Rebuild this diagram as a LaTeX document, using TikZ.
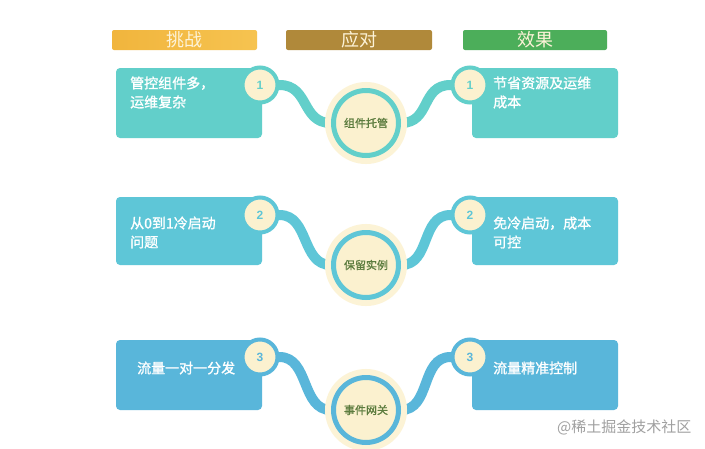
\documentclass[tikz,border=0pt]{standalone}
\usepackage{fontspec}
\setmainfont{Noto Sans CJK SC}
\newfontfamily\cjkmed[FakeBold=1.2]{Noto Sans CJK SC}
\newfontfamily\numfont{Liberation Sans}
\usetikzlibrary{backgrounds}
\definecolor{hdrA}{HTML}{F1B53D}
\definecolor{hdrAr}{HTML}{F6C350}
\definecolor{hdrB}{HTML}{B0893A}
\definecolor{hdrC}{HTML}{4CAE5A}
\definecolor{hdrtxt}{HTML}{FDF3D8}
\definecolor{rowA}{HTML}{62CFCA}
\definecolor{rowB}{HTML}{5EC6D7}
\definecolor{rowC}{HTML}{59B6DA}
\definecolor{cream}{HTML}{FBF1CF}
\definecolor{halo}{HTML}{FCF3D6}
\definecolor{ctrtxt}{HTML}{5C7C3E}
\definecolor{wmark}{HTML}{A0A0A0}
\tikzset{
  hdr/.style={rectangle, rounded corners=2pt, minimum width=145pt, minimum height=20pt,
    inner sep=0pt, text=hdrtxt, font=\fontsize{18}{18}\selectfont},
  rowbox/.style={rectangle, rounded corners=4pt, minimum width=146pt, minimum height=70pt,
    inner sep=0pt, fill=#1},
  boxtext/.style={text=white, align=left, inner sep=0pt, anchor=west,
    font=\cjkmed\fontsize{14}{19}\selectfont},
  numcirc/.style={circle, minimum size=35pt, inner sep=0pt, line width=4pt, draw=#1,
    fill=cream, text=#1, font=\numfont\bfseries\fontsize{12}{12}\selectfont},
  ctrcirc/.style={circle, minimum size=65pt, inner sep=0pt, line width=5pt, draw=#1,
    fill=cream, preaction={draw=halo, line width=17pt}, text=ctrtxt,
    font=\cjkmed\fontsize{11}{11}\selectfont},
  band/.style={draw=#1, line width=10pt}
}
\begin{document}
\begin{tikzpicture}[x=1pt,y=-1pt]
\useasboundingbox (0,0) rectangle (705,448);
\begin{scope}[on background layer]
\fill[white] (0,0) rectangle (705,448);
\end{scope}

% headers
\node[hdr, left color=hdrA, right color=hdrAr] (h1) at (184.5,40) {挑战};
\node[hdr, fill=hdrB, minimum width=146pt] (h2) at (359,40) {应对};
\node[hdr, fill=hdrC, minimum width=144pt] (h3) at (535,40) {效果};

% row 1
\node[rowbox=rowA] (l1) at (189,103) {};
\node[rowbox=rowA] (r1) at (545,103) {};
\node[boxtext] (lt1) at (130,92.5) {管控组件多，\\运维复杂};
\node[boxtext] (rt1) at (493,92.5) {节省资源及运维\\成本};
\node[numcirc=rowA] (n1) at (260,85) {1};
\node[numcirc=rowA] (m1) at (470,85) {1};
\node[ctrcirc=rowA] (c1) at (366,123) {组件托管};

% row 2
\node[rowbox=rowB, minimum height=68pt] (l2) at (189,231) {};
\node[rowbox=rowB, minimum height=68pt] (r2) at (545,231) {};
\node[boxtext] (lt2) at (130,232.5) {从0到1冷启动\\问题};
\node[boxtext] (rt2) at (493,232.5) {免冷启动，成本\\可控};
\node[numcirc=rowB] (n2) at (260,215) {2};
\node[numcirc=rowB] (m2) at (470,215) {2};
\node[ctrcirc=rowB] (c2) at (366,265) {保留实例};

% row 3
\node[rowbox=rowC] (l3) at (189,375) {};
\node[rowbox=rowC] (r3) at (545,375) {};
\node[boxtext] (lt3) at (137,368) {流量一对一分发};
\node[boxtext] (rt3) at (493,368) {流量精准控制};
\node[numcirc=rowC] (n3) at (260,357) {3};
\node[numcirc=rowC] (m3) at (470,357) {3};
\node[ctrcirc=rowC] (c3) at (366,410) {事件网关};

% bands
\begin{scope}[on background layer]
\draw[band=rowA] (n1.center) -- (n1.east) .. controls +(30,0) and +(-30,0) .. (c1.west) -- (c1.center);
\draw[band=rowA] (c1.center) -- (c1.east) .. controls +(30,0) and +(-30,0) .. (m1.west) -- (m1.center);
\draw[band=rowB] (n2.center) -- (n2.east) .. controls +(30,0) and +(-30,0) .. (c2.west) -- (c2.center);
\draw[band=rowB] (c2.center) -- (c2.east) .. controls +(30,0) and +(-30,0) .. (m2.west) -- (m2.center);
\draw[band=rowC] (n3.center) -- (n3.east) .. controls +(30,0) and +(-30,0) .. (c3.west) -- (c3.center);
\draw[band=rowC] (c3.center) -- (c3.east) .. controls +(30,0) and +(-30,0) .. (m3.west) -- (m3.center);
\end{scope}

% watermark
\node[text=wmark, anchor=west, inner sep=0pt, font=\fontsize{15}{15}\selectfont] (wm) at (557,427) {@稀土掘金技术社区};
\end{tikzpicture}
\end{document}
